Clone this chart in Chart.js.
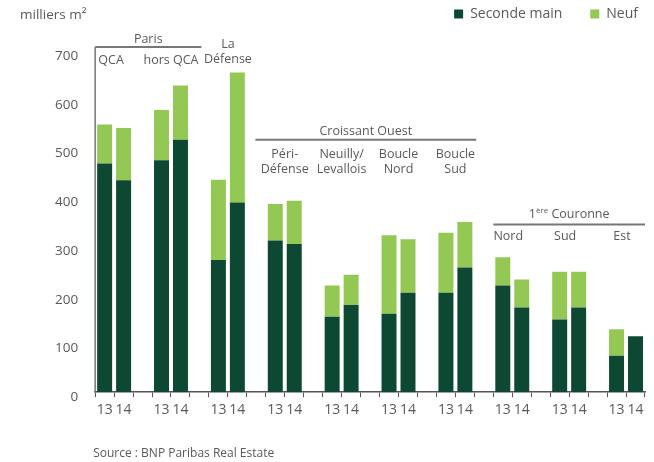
<!DOCTYPE html>
<html>
<head>
<meta charset="utf-8">
<script src="https://cdn.jsdelivr.net/npm/chart.js@4/dist/chart.umd.min.js"></script>
<style>
  html, body { margin: 0; padding: 0; background: #fff; }
  #wrap { width: 654px; height: 462px; }
</style>
</head>
<body>
<div id="wrap"><canvas id="chart"></canvas></div>
<script>
Chart.defaults.font.family = "'Open Sans', sans-serif";
Chart.defaults.font.size = 12;
Chart.defaults.color = '#666';

// one pair of bars (2013, 2014) per zone
const zones    = ['QCA', 'hors QCA', 'La Défense', 'Péri-Défense', 'Neuilly/Levallois',
                  'Boucle Nord', 'Boucle Sud', 'Nord', 'Sud', 'Est'];
const years    = ['13', '14'];
const seconde  = [469, 435, 476, 518, 271, 389, 311, 304, 155, 179,
                  161, 204, 204, 256, 219, 174, 149, 174, 75, 115];
const neuf     = [80, 107, 103, 111, 165, 267, 75, 89, 64, 62,
                  161, 110, 123, 93, 58, 57, 98, 73, 54, 0];
const yTicks   = [0, 100, 200, 300, 400, 500, 600, 700];

const DARK  = '#0c4832';
const LIGHT = '#93c855';
const INK   = '#5a5a5a';

// pad with an empty slot between zones
const labels = [], secData = [], neufData = [];
zones.forEach((z, g) => {
  years.forEach((y, k) => {
    labels.push(y);
    secData.push(seconde[g * 2 + k]);
    neufData.push(neuf[g * 2 + k]);
  });
  if (g < zones.length - 1) { labels.push(''); secData.push(null); neufData.push(null); }
});

// zone headings: text lines + vertical value where the first line sits
const headings = [
  { lines: ['QCA'],               y: 680, dx: -3 },
  { lines: ['hors QCA'],          y: 680 },
  { lines: ['La', 'Défense'],     y: 714 },
  { lines: ['Péri-', 'Défense'],  y: 488 },
  { lines: ['Neuilly/', 'Levallois'], y: 488 },
  { lines: ['Boucle', 'Nord'],    y: 488 },
  { lines: ['Boucle', 'Sud'],     y: 488 },
  { lines: ['Nord'],              y: 320, dx: -4 },
  { lines: ['Sud'],               y: 320, dx: -4 },
  { lines: ['Est'],               y: 320, dx: -4 },
];
const brackets = [
  { text: 'Paris',           from: -0.5, to: 5.1,  y: 708, ty: 724 },
  { text: 'Croissant Ouest', from: 7.95, to: 19.6, y: 518, ty: 536 },
  { text: '1ère Couronne',   from: 20.5, to: 28.5, y: 344, ty: 364, sup: true },
];

const FONT = "'Open Sans'";

const annotate = {
  id: 'annotate',
  beforeInit(chart) {
    const fit = chart.legend.fit;
    chart.legend.fit = function () { fit.bind(chart.legend)(); this.height += 20; };
  },
  afterDraw(chart) {
    const { ctx, chartArea, scales: { x, y } } = chart;
    const step = x.getPixelForValue(1) - x.getPixelForValue(0);
    const px = v => x.getPixelForValue(0) + v * step;
    ctx.save();
    ctx.fillStyle = INK;
    ctx.strokeStyle = '#777';
    ctx.textBaseline = 'middle';

    // unit label
    ctx.font = `13.5px ${FONT}`;
    ctx.textAlign = 'left';
    ctx.fillText('milliers m²', 20, 15);

    // y axis line extended up to the Paris bracket
    ctx.lineWidth = 1.5;
    ctx.beginPath();
    ctx.moveTo(chartArea.left, y.getPixelForValue(708));
    ctx.lineTo(chartArea.left, chartArea.bottom);
    ctx.stroke();

    // brackets
    brackets.forEach(b => {
      const x0 = px(b.from), x1 = px(b.to), yy = y.getPixelForValue(b.y);
      ctx.lineWidth = 2;
      ctx.beginPath(); ctx.moveTo(x0, yy); ctx.lineTo(x1, yy); ctx.stroke();
      const cx = (x0 + x1) / 2, ty = y.getPixelForValue(b.ty);
      ctx.font = `12.5px ${FONT}`;
      if (b.sup) {
        const w1 = ctx.measureText('1').width;
        const rest = ' Couronne';
        const wr = ctx.measureText(rest).width;
        ctx.font = `8px ${FONT}`;
        const ws = ctx.measureText('ère').width;
        let sx = cx - (w1 + ws + wr) / 2;
        ctx.textAlign = 'left';
        ctx.font = `12.5px ${FONT}`;
        ctx.fillText('1', sx, ty); sx += w1;
        ctx.font = `8px ${FONT}`;
        ctx.fillText('ère', sx, ty - 4); sx += ws;
        ctx.font = `12.5px ${FONT}`;
        ctx.fillText(rest, sx, ty);
      } else {
        ctx.textAlign = 'center';
        ctx.fillText(b.text, cx, ty);
      }
    });

    // zone headings, centred over each pair
    ctx.font = `12.5px ${FONT}`;
    ctx.textAlign = 'center';
    headings.forEach((h, g) => {
      const cx = px(g * 3 + 0.5) + (h.dx || 0);
      const y0 = y.getPixelForValue(h.y);
      h.lines.forEach((t, i) => ctx.fillText(t, cx, y0 + i * 15));
    });

    // source
    ctx.font = `12px ${FONT}`;
    ctx.textAlign = 'left';
    ctx.fillText('Source : BNP Paribas Real Estate', chartArea.left - 2, 454);
    ctx.restore();
  }
};

new Chart(document.getElementById('chart'), {
  type: 'bar',
  data: {
    labels,
    datasets: [
      { label: 'Seconde main', data: secData,  backgroundColor: DARK,
        barPercentage: 0.79, categoryPercentage: 1 },
      { label: 'Neuf',         data: neufData, backgroundColor: LIGHT,
        barPercentage: 0.79, categoryPercentage: 1 },
    ]
  },
  options: {
    responsive: true,
    maintainAspectRatio: false,
    animation: false,
    layout: { padding: { left: 46, right: 9, top: 0, bottom: 40 } },
    plugins: {
      legend: {
        position: 'top',
        align: 'end',
        labels: {
          boxWidth: 9, boxHeight: 9, padding: 7, color: INK, font: { size: 14 },
          generateLabels: chart => Chart.defaults.plugins.legend.labels.generateLabels(chart)
            .map((l, i) => ({ ...l, text: i === 0 ? l.text + '\u2003\u2002' : l.text }))
        }
      },
      tooltip: { enabled: false }
    },
    scales: {
      x: {
        stacked: true,
        border: { display: true, color: '#555', width: 1.5 },
        grid: { display: true, drawOnChartArea: false, drawTicks: true, tickLength: 5, color: '#555', offset: true },
        ticks: { autoSkip: false, maxRotation: 0, padding: 4, color: INK, font: { size: 14 } }
      },
      y: {
        stacked: true,
        min: 0, max: 700,
        afterBuildTicks: s => { s.ticks = yTicks.map(v => ({ value: v })); },
        border: { display: false },
        grid: { display: false },
        ticks: { padding: 9, labelOffset: 5, color: INK, font: { size: 13.5 } }
      }
    }
  },
  plugins: [annotate]
});
</script>
</body>
</html>
